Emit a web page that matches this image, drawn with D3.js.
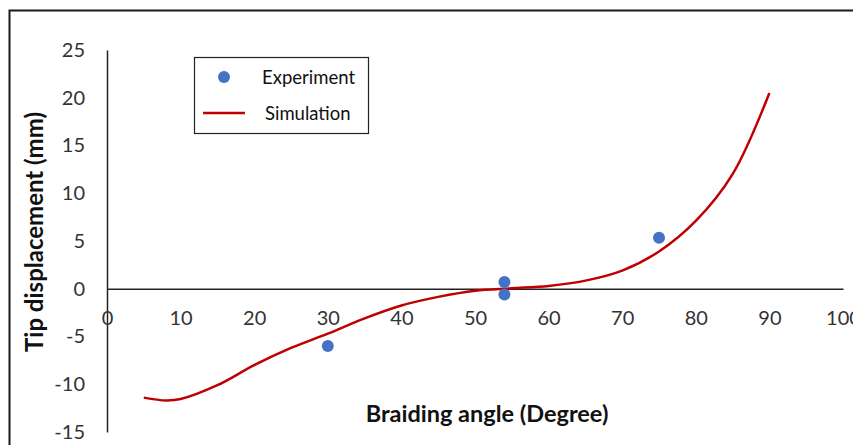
<!DOCTYPE html>
<html>
<head>
<meta charset="utf-8">
<script src="https://cdn.jsdelivr.net/npm/d3@7"></script>
<style>
  body { margin: 0; background: #fff; }
  svg { display: block; font-family: Lato, "Open Sans", sans-serif; }
</style>
</head>
<body>
<div id="chart"></div>
<script>
const width = 853, height = 445;

// Experiment points
const expAngle = [30, 54, 54, 75];
const expDisp = [-6.0, 0.7, -0.6, 5.35];

// Simulation curve
const simAngle = [5, 8, 10, 15, 20, 25, 30, 35, 40, 45, 50, 55, 60, 65, 70, 75, 80, 85, 90];
const simDisp = [-11.4, -11.7, -11.55, -10.1, -8.0, -6.2, -4.7, -3.1, -1.75, -0.85, -0.2, 0.05, 0.3, 0.85, 1.9, 3.9, 7.1, 12.0, 20.5];

const xTicks = [0, 10, 20, 30, 40, 50, 60, 70, 80, 90, 100];
const yTicks = [25, 20, 15, 10, 5, 0, -5, -10, -15];

const svg = d3.select('#chart')
    .append('svg')
    .attr('width', width)
    .attr('height', height);

// outer frame (cut off on right and bottom)
svg.append('rect')
    .attr('x', 9.5)
    .attr('y', 10.5)
    .attr('width', 880)
    .attr('height', 480)
    .attr('fill', 'none')
    .attr('stroke', '#1a1a1a')
    .attr('stroke-width', 2);

// Scales
const x = d3.scaleLinear().domain([0, 100]).range([107, 843]);
const y = d3.scaleLinear().domain([-15, 25]).range([432, 50]);

// Axes
const yAxis = svg.append('g')
    .attr('transform', `translate(${x(0)},0)`)
    .call(d3.axisLeft(y).tickValues(yTicks).tickSize(0).tickPadding(22).tickFormat(d => String(d)));
yAxis.select('.domain').attr('stroke', '#222').attr('stroke-width', 1.5);
yAxis.selectAll('text')
    .attr('font-family', 'Lato, sans-serif')
    .attr('font-size', 20)
    .attr('fill', '#333');

const xAxis = svg.append('g')
    .attr('transform', `translate(0,${y(0)})`)
    .call(d3.axisBottom(x).tickValues(xTicks).tickSize(0).tickPadding(22).tickFormat(d => String(d)));
xAxis.select('.domain').attr('stroke', '#222').attr('stroke-width', 1.5);
xAxis.selectAll('text')
    .attr('font-family', 'Lato, sans-serif')
    .attr('font-size', 20)
    .attr('fill', '#333');

// Axis titles
svg.append('text')
    .attr('x', 487)
    .attr('y', 422)
    .attr('text-anchor', 'middle')
    .attr('font-size', 23.5)
    .attr('font-weight', 'bold')
    .attr('fill', '#111')
    .text('Braiding angle (Degree)');

svg.append('text')
    .attr('transform', `translate(43,232) rotate(-90)`)
    .attr('text-anchor', 'middle')
    .attr('font-size', 24)
    .attr('font-weight', 'bold')
    .attr('fill', '#111')
    .text('Tip displacement (mm)');

// Simulation line
const line = d3.line()
    .x((d, i) => x(simAngle[i]))
    .y(d => y(d))
    .curve(d3.curveCatmullRom.alpha(0.5));

svg.append('path')
    .datum(simDisp)
    .attr('d', line)
    .attr('fill', 'none')
    .attr('stroke', '#C00000')
    .attr('stroke-width', 2.5);

// Experiment points
svg.selectAll('circle.exp')
    .data(expAngle)
    .join('circle')
    .attr('class', 'exp')
    .attr('cx', d => x(d))
    .attr('cy', (d, i) => y(expDisp[i]))
    .attr('r', 6)
    .attr('fill', '#4472C4');

// Legend
const legend = svg.append('g');
legend.append('rect')
    .attr('x', 194.5)
    .attr('y', 57.5)
    .attr('width', 174)
    .attr('height', 76)
    .attr('fill', '#fff')
    .attr('stroke', '#222')
    .attr('stroke-width', 1.2);

legend.append('circle')
    .attr('cx', 224)
    .attr('cy', 77)
    .attr('r', 6)
    .attr('fill', '#4472C4');
legend.append('text')
    .attr('x', 262)
    .attr('y', 84)
    .attr('font-size', 18.5)
    .attr('fill', '#111')
    .text('Experiment');

legend.append('line')
    .attr('x1', 203)
    .attr('x2', 245)
    .attr('y1', 113)
    .attr('y2', 113)
    .attr('stroke', '#C00000')
    .attr('stroke-width', 2.5);
legend.append('text')
    .attr('x', 265)
    .attr('y', 120)
    .attr('font-size', 18.5)
    .attr('fill', '#111')
    .text('Simulation');
</script>
</body>
</html>
